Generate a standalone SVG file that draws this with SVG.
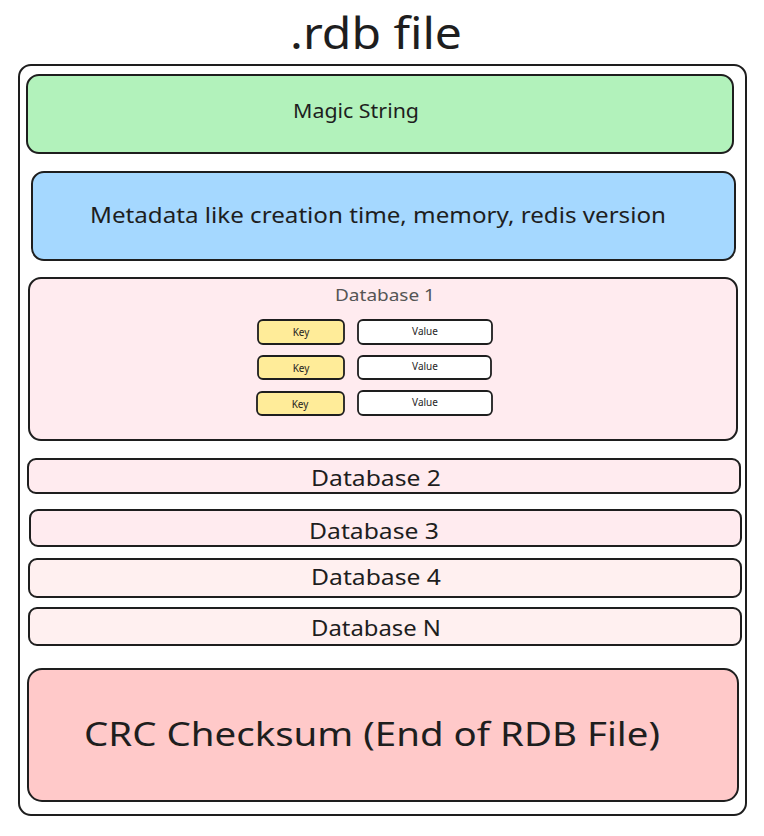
<svg xmlns="http://www.w3.org/2000/svg" width="764" height="836" viewBox="0 0 764 836">
<style>
.box{stroke:#1e1e1e;stroke-width:2;}
.t{font-family:"Noto Sans","Liberation Sans",sans-serif;fill:#1e1e1e;text-anchor:middle;dominant-baseline:central;}
.db{fill:#ffebef;}
.db2{fill:#fff0f0;}
.key{fill:#ffec99;stroke:#1e1e1e;stroke-width:1.8;}
.val{fill:#ffffff;stroke:#1e1e1e;stroke-width:1.8;}
</style>
<rect width="764" height="836" fill="#ffffff"/>
<g id="title"><text class="t" x="376" y="32" font-size="44" textLength="172" lengthAdjust="spacingAndGlyphs">.rdb file</text></g>
<g id="rdb-file"><rect class="box" x="19" y="65" width="727" height="750" rx="12" fill="#ffffff"/></g>
<g id="magic-string"><rect class="box" x="27" y="75" width="706" height="78" rx="12" fill="#b2f2bb"/><text class="t" x="356" y="110" font-size="20" textLength="126" lengthAdjust="spacingAndGlyphs">Magic String</text></g>
<g id="metadata"><rect class="box" x="32" y="172" width="703" height="88" rx="12" fill="#a5d8ff"/><text class="t" x="378" y="215" font-size="21" textLength="576" lengthAdjust="spacingAndGlyphs">Metadata like creation time, memory, redis version</text></g>
<g id="database-1"><rect class="box db" x="29" y="278" width="708" height="162" rx="12"/><text class="t" x="385" y="295" font-size="16" textLength="100" lengthAdjust="spacingAndGlyphs" style="fill:#555555">Database 1</text>
<g id="kv1"><rect class="key" x="258" y="320" width="86" height="24" rx="5"/><text class="t" x="301" y="332" font-size="10">Key</text><rect class="val" x="358" y="320" width="134" height="24" rx="5"/><text class="t" x="425" y="331" font-size="10">Value</text></g>
<g id="kv2"><rect class="key" x="258" y="356" width="86" height="23" rx="5"/><text class="t" x="301" y="368" font-size="10">Key</text><rect class="val" x="358" y="356" width="133" height="23" rx="5"/><text class="t" x="425" y="366" font-size="10">Value</text></g>
<g id="kv3"><rect class="key" x="257" y="392" width="87" height="23" rx="5"/><text class="t" x="300" y="404" font-size="10">Key</text><rect class="val" x="358" y="391" width="134" height="24" rx="5"/><text class="t" x="425" y="402" font-size="10">Value</text></g>
</g>
<g id="database-2"><rect class="box db" x="28" y="459" width="712" height="34" rx="8"/><text class="t" x="376" y="477" font-size="22" textLength="130" lengthAdjust="spacingAndGlyphs">Database 2</text></g>
<g id="database-3"><rect class="box db" x="30" y="510" width="711" height="36" rx="8"/><text class="t" x="374" y="530" font-size="22" textLength="130" lengthAdjust="spacingAndGlyphs">Database 3</text></g>
<g id="database-4"><rect class="box db2" x="29" y="559" width="712" height="38" rx="8"/><text class="t" x="376" y="576" font-size="22" textLength="130" lengthAdjust="spacingAndGlyphs">Database 4</text></g>
<g id="database-n"><rect class="box db2" x="29" y="608" width="712" height="37" rx="8"/><text class="t" x="376" y="627" font-size="22" textLength="130" lengthAdjust="spacingAndGlyphs">Database N</text></g>
<g id="crc"><rect class="box" x="28" y="669" width="710" height="132" rx="14" fill="#ffc9c9"/><text class="t" x="372" y="733" font-size="32" textLength="576" lengthAdjust="spacingAndGlyphs">CRC Checksum (End of RDB File)</text></g>
<g id="connectors"></g>
</svg>
